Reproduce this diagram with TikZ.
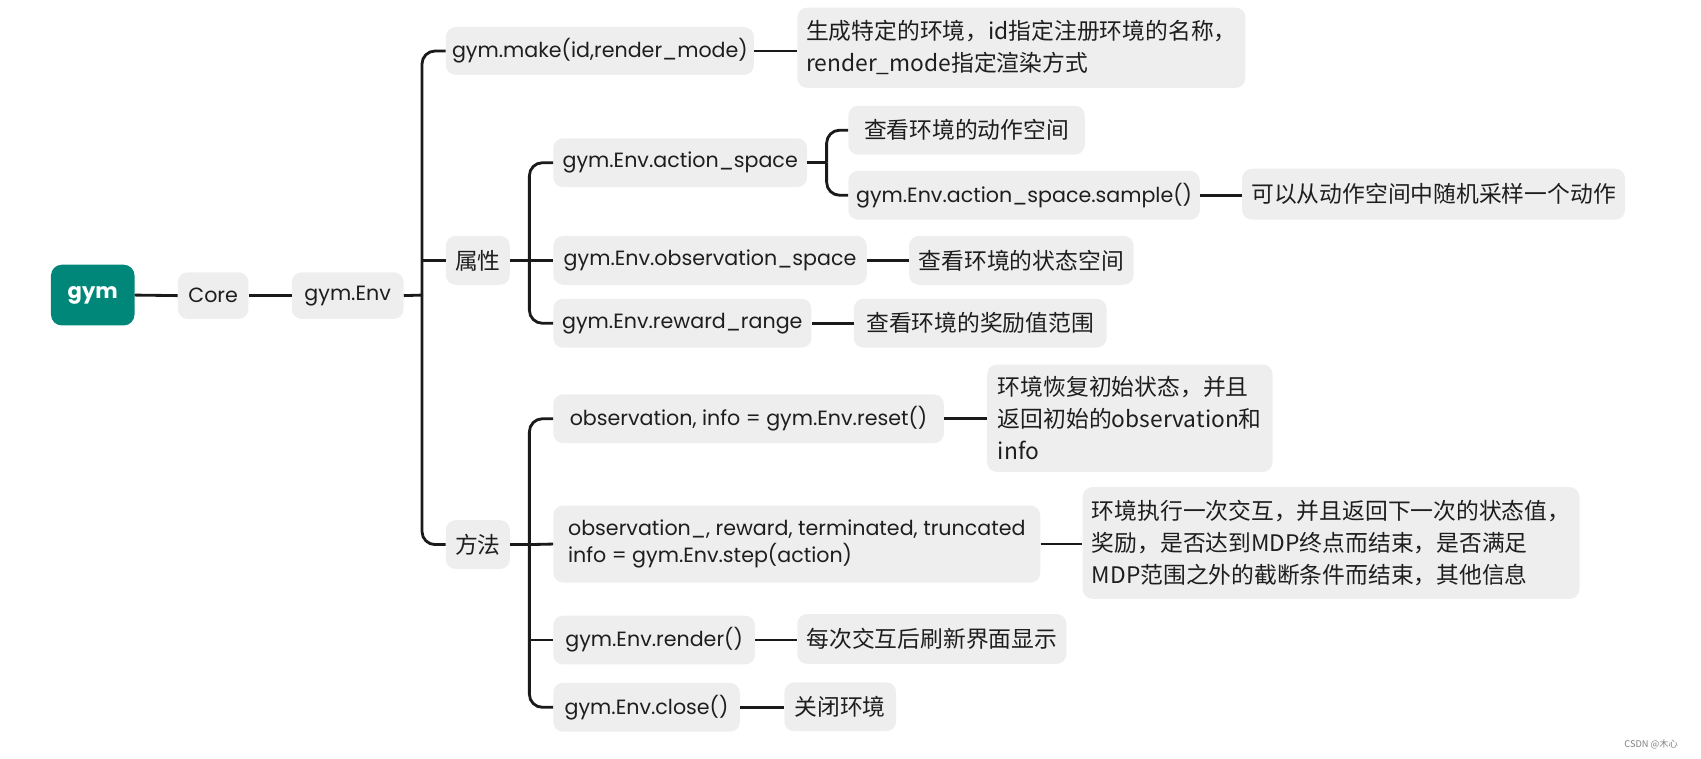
\documentclass[tikz,border=0pt]{standalone}
\usepackage{fontspec}
\setmainfont{Poppins}
\newfontfamily\cjk{Noto Sans CJK SC}
\definecolor{boxgray}{HTML}{EEEEEE}
\definecolor{txt}{HTML}{1E1E1E}
\definecolor{teal}{HTML}{00877A}
\definecolor{ln}{HTML}{1A1A1A}
\begin{document}
\begin{tikzpicture}[x=1pt,y=-1pt,
  box/.style={fill=boxgray, rounded corners=9pt, inner sep=0pt, text=txt, font=\fontsize{19}{25}\selectfont},
  cbox/.style={box, align=left, font=\cjk\fontsize{21}{29.5}\selectfont},
  root/.style={fill=teal, rounded corners=10pt, inner sep=0pt, text=white, font=\bfseries\fontsize{19.5}{24}\selectfont},
  wh/.style 2 args={minimum width=#1pt, minimum height=#2pt},
  conn/.style={draw=ln, line width=2.6pt},
  rc/.style={conn, rounded corners=12pt}]
\useasboundingbox (0,0) rectangle (1568,699);
% nodes
\node[root, wh={77}{56}] (gym) at (85.5,272) {gym};
\node[box, wh={65}{43}] (core) at (196.5,272.5) {Core};
\node[box, wh={103}{43}] (env) at (320.5,272.5) {gym.Env};
\node[box, wh={284}{44}] (make) at (553,47) {gym.make(id,render\_mode)};
\node[cbox, wh={413}{74}] (d1) at (941.5,44) {生成特定的环境，id指定注册环境的名称，\\render\_mode指定渲染方式};
\node[cbox, wh={59}{45}] (sx) at (440.5,240) {属性};
\node[cbox, wh={59}{45}] (ff) at (440.5,502) {方法};
\node[box, wh={234}{45}] (as) at (627,150) {gym.Env.action\_space};
\node[box, wh={289}{45}] (os) at (654.5,240) {gym.Env.observation\_space};
\node[box, wh={238}{45}] (rr) at (629,298) {gym.Env.reward\_range};
\node[cbox, wh={218}{45}] (asd) at (891,120) {查看环境的动作空间};
\node[box, wh={324}{45}] (smp) at (944,180) {gym.Env.action\_space.sample()};
\node[cbox, wh={353}{47}] (smpd) at (1321.5,179) {可以从动作空间中随机采样一个动作};
\node[cbox, wh={207}{45}] (osd) at (941.5,240) {查看环境的状态空间};
\node[cbox, wh={233}{45}] (rrd) at (903.5,298) {查看环境的奖励值范围};
\node[box, wh={360}{45}] (rst) at (690,386) {observation, info = gym.Env.reset()};
\node[cbox, wh={263}{99}] (rstd) at (1041.5,385.5) {环境恢复初始状态，并且\\返回初始的observation和\\info};
\node[box, wh={449}{71}, align=left, font=\fontsize{19}{25}\selectfont] (stp) at (734.5,501.5) {observation\_, reward, terminated, truncated\\info = gym.Env.step(action)};
\node[cbox, wh={458}{103}] (stpd) at (1227,500.5) {环境执行一次交互，并且返回下一次的状态值，\\奖励，是否达到MDP终点而结束，是否满足\\MDP范围之外的截断条件而结束，其他信息};
\node[box, wh={186}{45}] (rnd) at (603,590) {gym.Env.render()};
\node[cbox, wh={248}{46}] (rndd) at (859,589) {每次交互后刷新界面显示};
\node[box, wh={172}{45}] (cls) at (596,652) {gym.Env.close()};
\node[cbox, wh={103}{45}] (clsd) at (774.5,651.5) {关闭环境};
\node[font=\cjk\fontsize{8.5}{10}\selectfont, text=gray, inner sep=0pt] (wm) at (1522,686) {CSDN @木心};
% connectors
\coordinate (t1) at (389,272);
\coordinate (t2) at (488,240);
\coordinate (t3) at (762,150);
\coordinate (t4) at (488,502);
\draw[conn] (gym.east) -- (core.west);
\draw[conn] (core.east) -- (env.west);
\draw[conn] (env.east) -- (t1);
\draw[rc] (t1) |- (make.west);
\draw[rc] (t1) |- (ff.west);
\draw[conn] (t1 |- sx.west) -- (sx.west);
\draw[conn] (sx.east) -- (t2);
\draw[rc] (t2) |- (as.west);
\draw[rc] (t2) |- (rr.west);
\draw[conn] (t2) -- (os.west);
\draw[conn] (as.east) -- (t3);
\draw[rc] (t3) |- (asd.west);
\draw[rc] (t3) |- (smp.west);
\draw[conn] (ff.east) -- (t4);
\draw[rc] (t4) |- (rst.west);
\draw[rc] (t4) |- (cls.west);
\draw[conn] (t4) -- (stp.west);
\draw[conn] (t4 |- rnd.west) -- (rnd.west);
\draw[conn] (make.east) -- (make.east -| d1.west);
\draw[conn] (smp.east) -- (smp.east -| smpd.west);
\draw[conn] (os.east) -- (os.east -| osd.west);
\draw[conn] (rr.east) -- (rr.east -| rrd.west);
\draw[conn] (rst.east) -- (rst.east -| rstd.west);
\draw[conn] (stp.east) -- (stp.east -| stpd.west);
\draw[conn] (rnd.east) -- (rnd.east -| rndd.west);
\draw[conn] (cls.east) -- (cls.east -| clsd.west);
\end{tikzpicture}
\end{document}
